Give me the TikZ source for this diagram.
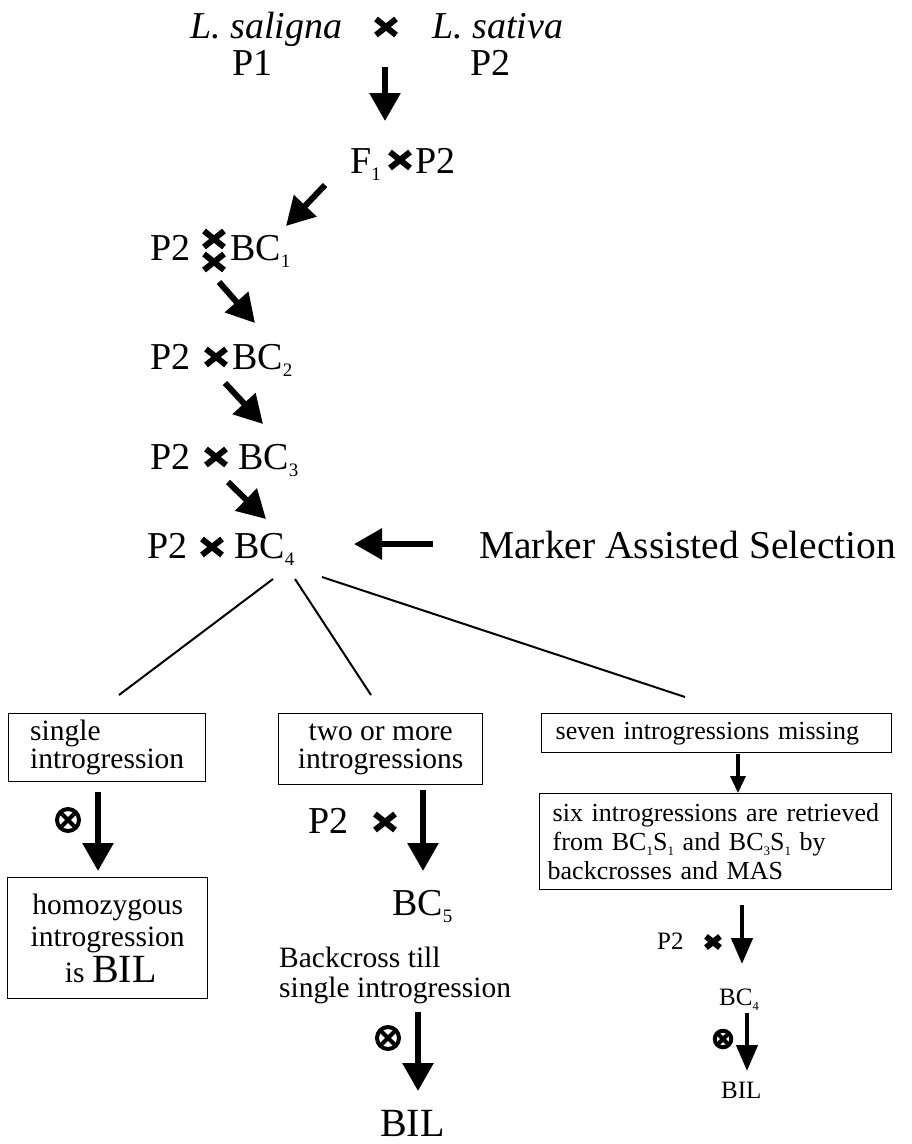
\documentclass[tikz,border=0pt]{standalone}
\usepackage{fontspec}
\setmainfont{Liberation Serif}
\usetikzlibrary{arrows.meta}
\newcommand{\lowsub}[1]{\raisebox{-0.2em}{\scalebox{0.5}{#1}}}
\begin{document}
\begin{tikzpicture}[x=1pt,y=-1pt,
  txt/.style={inner sep=0pt, anchor=base west, font=\fontsize{38}{42}\selectfont},
  smalltxt/.style={inner sep=0pt, anchor=base west, font=\fontsize{25}{28}\selectfont},
  midtxt/.style={inner sep=0pt, anchor=base west, font=\fontsize{29.5}{30}\selectfont},
  boxnode/.style={draw, line width=1.4pt, anchor=north west, inner sep=0pt},
  bigarrow/.style={line width=6pt, -{Triangle[length=28pt,width=30pt]}},
  smallarrow/.style={line width=4.5pt, -{Triangle[length=26pt,width=21pt]}},
  tinyarrow/.style={line width=3.5pt, -{Triangle[length=17pt,width=15pt]}},
  branch/.style={line width=2pt},
  crossmark/.pic={\draw[line width=6pt] (-10,-8)--(10,8) (-10,8)--(10,-8);},
  selfmark/.pic={\fill[white] (0,0) circle (11);
     \draw[line width=4pt] (0,0) circle (11);
     \begin{scope}\clip (0,0) circle (11);
     \draw[line width=4pt] (-9,-9)--(9,9) (-9,9)--(9,-9);\end{scope}}
]
\useasboundingbox (0,0) rectangle (912,1144);
\fill[white] (0,0) rectangle (912,1144);

% top row
\node[txt] (sal) at (190,38) {\itshape L. saligna};
\node[txt] (sat) at (432,38) {\itshape L. sativa};
\pic at (386,27) {crossmark};
\node[txt] (p1) at (232,75) {P1};
\node[txt] (p2a) at (470,75) {P2};

% F1 row
\node[txt] (f1) at (350,173) {F\lowsub{1}};
\pic at (400,160) {crossmark};
\node[txt] (p2b) at (415,173) {P2};

% BC1 row
\node[txt] (p2c) at (150,260) {P2};
\pic at (214,239) {crossmark};
\pic at (214,262) {crossmark};
\node[txt] (bc1) at (230,260) {BC\lowsub{1}};

% BC2 row
\node[txt] (p2d) at (150,369) {P2};
\pic at (216,357) {crossmark};
\node[txt] (bc2) at (232,369) {BC\lowsub{2}};

% BC3 row
\node[txt] (p2e) at (150,469) {P2};
\pic at (216,457) {crossmark};
\node[txt] (bc3) at (238,469) {BC\lowsub{3}};

% BC4 row
\node[txt] (p2f) at (147,558) {P2};
\pic at (212,547) {crossmark};
\node[txt] (bc4) at (234,558) {BC\lowsub{4}};
\node[txt, font=\fontsize{39.5}{42}\selectfont] (mas) at (479,558) {Marker Assisted Selection};

% arrow coordinates
\coordinate (a0s) at (385,67);  \coordinate (a0e) at (385,121);
\coordinate (a1s) at (325,185); \coordinate (a1e) at (286,226);
\coordinate (a2s) at (219,282); \coordinate (a2e) at (255,323);
\coordinate (a3s) at (225,383); \coordinate (a3e) at (263,424);
\coordinate (a4s) at (228,482); \coordinate (a4e) at (266,519);
\coordinate (ms) at (433,544);  \coordinate (me) at (354,544);
\draw[bigarrow] (a0s) -- (a0e);
\draw[bigarrow] (a1s) -- (a1e);
\draw[bigarrow] (a2s) -- (a2e);
\draw[bigarrow] (a3s) -- (a3e);
\draw[bigarrow] (a4s) -- (a4e);
\draw[bigarrow] (ms) -- (me);

% branches
\coordinate (b1s) at (273,579); \coordinate (b1e) at (119,695);
\coordinate (b2s) at (295,579); \coordinate (b2e) at (371,695);
\coordinate (b3s) at (322,577); \coordinate (b3e) at (685,697);
\draw[branch] (b1s) -- (b1e);
\draw[branch] (b2s) -- (b2e);
\draw[branch] (b3s) -- (b3e);

% left column
\node[boxnode, minimum width=197pt, minimum height=68pt, align=left,
      font=\fontsize{29.5}{28}\selectfont] (box1) at (8,713)
      {single\\introgression};
\coordinate (c1s) at (98,792); \coordinate (c1e) at (98,871);
\draw[bigarrow] (c1s) -- (c1e);
\pic at (68,820) {selfmark};
\node[boxnode, minimum width=200pt, minimum height=121pt, align=center,
      font=\fontsize{29.5}{32}\selectfont] (box5) at (7,877)
      {homozygous\\introgression\\[2pt]\hspace*{6pt}is {\fontsize{40}{40}\selectfont BIL}};

% middle column
\node[boxnode, minimum width=204pt, minimum height=71pt, align=center,
      font=\fontsize{29.5}{28}\selectfont] (box2) at (278,713)
      {two or more\\introgressions};
\coordinate (c2s) at (423,790); \coordinate (c2e) at (423,871);
\draw[bigarrow] (c2s) -- (c2e);
\node[txt] (p2g) at (308,833) {P2};
\pic at (385,822) {crossmark};
\node[txt] (bc5) at (392,915) {BC\lowsub{5}};
\node[midtxt] (bt1) at (279,967) {Backcross till};
\node[midtxt] (bt2) at (279,997) {single introgression};
\pic at (388,1038) {selfmark};
\coordinate (c3s) at (418,1012); \coordinate (c3e) at (418,1091);
\draw[bigarrow] (c3s) -- (c3e);
\node[txt, font=\fontsize{40}{42}\selectfont] (bil1) at (380,1136) {BIL};

% right column
\node[boxnode, minimum width=350pt, minimum height=39pt, align=left, text width=322pt,
      font=\fontsize{26}{28}\selectfont] (box3) at (541,713)
      {seven introgressions missing};
\coordinate (d1s) at (738,754); \coordinate (d1e) at (738,793);
\draw[tinyarrow] (d1s) -- (d1e);
\node[boxnode, minimum width=352pt, minimum height=96pt, align=left, text width=336pt,
      font=\fontsize{26}{29}\selectfont] (box4) at (539,793)
      {\hspace*{5pt}six introgressions are retrieved\\
       \hspace*{5pt}from BC\lowsub{1}S\lowsub{1} and BC\lowsub{3}S\lowsub{1} by\\
       backcrosses and MAS};
\node[smalltxt] (p2h) at (657,949) {P2};
\pic[scale=0.7] at (713,942) {crossmark};
\coordinate (d2s) at (742,905); \coordinate (d2e) at (742,964);
\draw[smallarrow] (d2s) -- (d2e);
\node[smalltxt] (bc4b) at (719,1005) {BC\lowsub{4}};
\pic[scale=0.75] at (723,1039) {selfmark};
\coordinate (d3s) at (747,1013); \coordinate (d3e) at (747,1071);
\draw[smallarrow] (d3s) -- (d3e);
\node[smalltxt] (bil2) at (721,1098) {BIL};
\end{tikzpicture}
\end{document}
